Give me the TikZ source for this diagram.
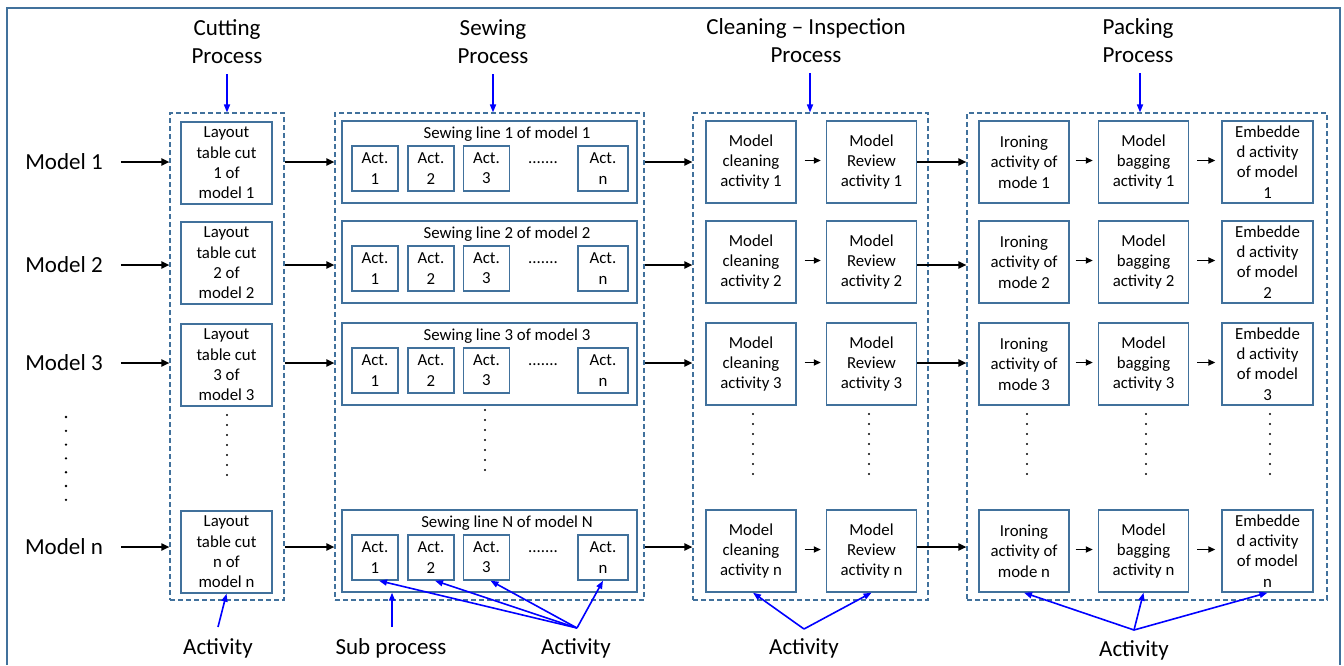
\documentclass[tikz,border=0pt]{standalone}
\usepackage{fontspec}
\setmainfont{Carlito}
\usetikzlibrary{arrows.meta}
\definecolor{bordc}{RGB}{65,113,156}
\definecolor{arrblue}{RGB}{0,0,255}
\newcommand\fsS{\fontsize{16.8}{20.3}\selectfont}
\newcommand\fsL{\fontsize{23}{28}\selectfont}
\begin{document}
\begin{tikzpicture}[x=1pt,y=-1pt,
  box/.style={draw=bordc,line width=1.4pt,fill=white,align=center,font=\fsS,inner sep=0pt,minimum width=91pt,minimum height=82pt},
  actbox/.style={draw=bordc,line width=1.4pt,align=center,font=\fsS,inner sep=0pt,minimum width=46pt,minimum height=45pt},
  linebox/.style={draw=bordc,line width=1.4pt,inner sep=0pt,minimum width=295pt,minimum height=82pt},
  group/.style={draw=bordc,line width=1.1pt,dash pattern=on 5pt off 3pt,inner sep=0pt},
  arr/.style={draw=black,line width=1.8pt,-{Triangle[length=8pt,width=7pt]}},
  sarr/.style={draw=black,line width=1.8pt,-{Triangle[length=7pt,width=6pt]}},
  barr/.style={draw=arrblue,line width=1.6pt,-{Triangle[length=8pt,width=6pt]}},
  lbl/.style={font=\fsL,align=center,inner sep=0pt},
  small/.style={font=\fsS,inner sep=0pt}
]
\useasboundingbox (0,0) rectangle (1344,665);
\draw[bordc,line width=1.2pt] (7,665) -- (7,8) -- (1340,8) -- (1340,665);

% process groups
\node[group,minimum width=114pt,minimum height=487pt] (cutG) at (227,356.5) {};
\node[group,minimum width=309pt,minimum height=487pt] (sewG) at (489.5,356.5) {};
\node[group,minimum width=235pt,minimum height=487pt] (clG) at (810.5,356.5) {};
\node[group,minimum width=360pt,minimum height=487pt] (pkG) at (1147,356.5) {};

% headings
\node[lbl] (hCut) at (227,42) {Cutting\\Process};
\node[lbl] (hSew) at (493,42) {Sewing\\Process};
\node[lbl] (hCl) at (806,41) {Cleaning -- Inspection\\Process};
\node[lbl] (hPk) at (1138,41) {Packing\\Process};
\draw[barr] ([yshift=-10pt]hCut.south) -- (hCut.south |- cutG.north);
\draw[barr] ([yshift=-10pt]hSew.south) -- (hSew.south |- sewG.north);
\draw[barr] ([xshift=4pt,yshift=-10pt]hCl.south) -- ([xshift=4pt]hCl.south |- clG.north);
\draw[barr] ([xshift=2pt,yshift=-10pt]hPk.south) -- ([xshift=2pt]hPk.south |- pkG.north);

% rows of boxes
\foreach \r/\yc/\t/\T in {1/162/1/1, 2/262/2/2, 3/364/3/3, n/551/n/N}{
  \node[box] (cut\r) at (226.5,{\yc+1}) {Layout\\table cut\\\t\ of\\model \t};
  \node[linebox] (sew\r) at (489.5,\yc) {};
  \node[small] (st\r) at (507,{\yc-28}) {Sewing line \T\ of model \T};
  \node[actbox] (a\r1) at (375,{\yc+6.5}) {Act.\\1};
  \node[actbox] (a\r2) at (431,{\yc+6.5}) {Act.\\2};
  \node[actbox] (a\r3) at (486.5,{\yc+6.5}) {Act.\\3};
  \node[actbox,minimum width=50pt] (a\r n) at (603,{\yc+6.5}) {Act.\\n};
  \node[small] (dd\r) at (543,{\yc+1}) {.......};
  \node[box,minimum width=90pt] (cl\r) at (751,\yc) {Model\\cleaning\\activity \t};
  \node[box,minimum width=90pt] (rv\r) at (871.5,\yc) {Model\\Review\\activity \t};
  \node[box,minimum width=90pt] (ir\r) at (1024,\yc) {Ironing\\activity of\\mode \t};
  \node[box,minimum width=90pt] (bg\r) at (1143.5,\yc) {Model\\bagging\\activity \t};
  \node[box,minimum width=91pt] (em\r) at (1267.5,\yc) {Embedde\\d activity\\of model\\\t};
  \draw[sarr] ([xshift=8pt,yshift=1.5pt]cl\r.east) -- ([xshift=-5pt,yshift=1.5pt]rv\r.west);
  \draw[sarr] ([xshift=6pt,yshift=1.5pt]ir\r.east) -- ([xshift=-5pt,yshift=1.5pt]bg\r.west);
  \draw[sarr] ([xshift=8pt,yshift=1.5pt]bg\r.east) -- ([xshift=-6pt,yshift=1.5pt]em\r.west);
}

% model labels and flow arrows
\foreach \r/\ym in {1/162, 2/265, 3/363, n/547}{
  \node[lbl] (m\r) at (64,\ym) {Model \r};
  \draw[arr] ([xshift=18pt]m\r.east) -- (m\r -| cutG.west);
  \draw[arr] (m\r -| cutG.east) -- (m\r -| sewG.west);
  \draw[arr] (m\r -| sewG.east) -- (m\r -| clG.west);
  \draw[arr] (m\r -| rv\r.east) -- (m\r -| pkG.west);
}

% vertical dots
\foreach \k in {0,...,6} \fill (66,{417+13.8*\k}) circle (1.3pt);
\foreach \xx/\ys in {227/415, 485/410, 753/414, 869/414, 1027/414, 1146/414, 1270/414}
  \foreach \k in {0,...,6} \fill (\xx,{\ys+10*\k}) circle (1.1pt);

% bottom labels
\node[lbl] (aCut) at (218,648) {Activity};
\node[lbl] (aSub) at (391,648) {Sub process};
\node[lbl] (aSew) at (576,648) {Activity};
\node[lbl] (aCl) at (804,648) {Activity};
\node[lbl] (aPk) at (1134,650) {Activity};
\coordinate (apCut) at (218,627);
\coordinate (apSub) at (392,627);
\coordinate (apSew) at (577,628);
\coordinate (apCl) at (804,629);
\coordinate (apPk) at (1134,630);
\draw[barr] (apCut) -- (cutn.south);
\draw[barr] (apSub) -- (apSub |- sewn.south);
\draw[barr] (apSew) -- ([xshift=4pt]an1.south);
\draw[barr] (apSew) -- ([xshift=4pt]an2.south);
\draw[barr] (apSew) -- ([xshift=4pt]an3.south);
\draw[barr] (apSew) -- (ann.south);
\draw[barr] (apCl) -- ([xshift=2pt]cln.south);
\draw[barr] (apCl) -- (rvn.south);
\draw[barr] (apPk) -- (irn.south);
\draw[barr] (apPk) -- (bgn.south);
\draw[barr] (apPk) -- (emn.south);
\end{tikzpicture}
\end{document}
